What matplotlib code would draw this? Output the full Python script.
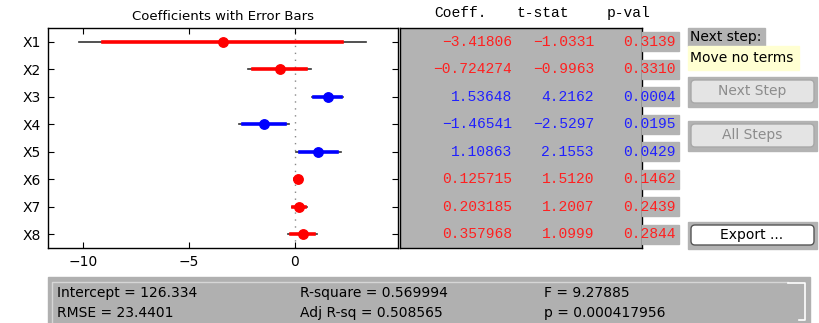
import matplotlib
matplotlib.use("Agg")
import matplotlib.pyplot as plt
from matplotlib.patches import Rectangle, FancyBboxPatch

# stepwise regression results
terms = ["X1", "X2", "X3", "X4", "X5", "X6", "X7", "X8"]
coef = [-3.41806, -0.724274, 1.53648, -1.46541, 1.10863, 0.125715, 0.203185, 0.357968]
tstat = [-1.0331, -0.9963, 4.2162, -2.5297, 2.1553, 1.5120, 1.2007, 1.0999]
pval = ["0.3139", "0.3310", "0.0004", "0.0195", "0.0429", "0.1462", "0.2439", "0.2844"]
coef_txt = ["-3.41806", "-0.724274", "1.53648", "-1.46541", "1.10863", "0.125715", "0.203185", "0.357968"]
tstat_txt = ["-1.0331", "-0.9963", "4.2162", "-2.5297", "2.1553", "1.5120", "1.2007", "1.0999"]
in_model = [False, False, True, True, True, False, False, False]

intercept = "126.334"
rmse = "23.4401"
rsq = "0.569994"
adj_rsq = "0.508565"
fstat = "9.27885"
p_model = "0.000417956"

T95, T90 = 2.04, 1.70   # critical t values for the two interval widths

W, H = 820, 323
GRAY = "#b3b3b3"


def frect(x, y, w, h):
    return [x / W, 1 - (y + h) / H, w / W, h / H]


fig = plt.figure(figsize=(W / 100, H / 100), dpi=100)
fig.patch.set_facecolor("white")

# pixel-space layer for the panel widgets
ov = fig.add_axes([0, 0, 1, 1])
ov.set_xlim(0, W)
ov.set_ylim(H, 0)
ov.axis("off")

# coefficient plot
ax = fig.add_axes(frect(48, 28, 350, 220))
ax.set_xlim(-11.65, 4.86)
ax.set_ylim(8.5, 0.5)
ax.axvline(0, color="#888888", lw=1, ls=(0, (1, 4)), zorder=1)
for i, name in enumerate(terms):
    y = i + 1
    se = coef[i] / tstat[i]
    col = "blue" if in_model[i] else "red"
    ax.plot([coef[i] - T95 * se, coef[i] + T95 * se], [y, y], color="#333333", lw=1.2, zorder=2)
    ax.plot([coef[i] - T90 * se, coef[i] + T90 * se], [y, y], color=col, lw=2.6, zorder=3)
    ax.plot(coef[i], y, "o", color=col, ms=6.8, zorder=4)
ax.set_yticks(range(1, 9))
ax.set_yticklabels(terms, fontsize=10)
ax.set_xticks([-10, -5, 0])
ax.tick_params(axis="both", direction="in", top=True, right=True, length=4, labelsize=10, pad=5)
ax.set_title("Coefficients with Error Bars", fontsize=9.5, pad=6)
for s in ax.spines.values():
    s.set_linewidth(1)

# coefficient table
tb = fig.add_axes(frect(400, 28, 242, 220))
tb.set_facecolor(GRAY)
tb.set_xlim(0, 242)
tb.set_ylim(8.5, 0.5)
tb.set_xticks([])
tb.set_yticks([])
for s in tb.spines.values():
    s.set_linewidth(1)
mono = "Liberation Mono"
fs = 10.5
for xr, hdr in [(87, "Coeff."), (169, "t-stat"), (250, "p-val")]:
    tb.text(xr, -0.05, hdr, ha="right", va="center", fontsize=fs, family=mono, clip_on=False)
for i in range(len(terms)):
    y = i + 1
    col = "#2020ff" if in_model[i] else "#ff2020"
    tb.add_patch(Rectangle((242, y - 0.35), 37, 0.7, color=GRAY, clip_on=False, zorder=3))
    tb.text(112, y, coef_txt[i].replace("-", "\u2212"), ha="right", va="center",
            fontsize=fs, family=mono, color=col)
    tb.text(194, y, tstat_txt[i].replace("-", "\u2212"), ha="right", va="center",
            fontsize=fs, family=mono, color=col)
    tb.text(276, y, pval[i], ha="right", va="center", fontsize=fs,
            family=mono, color=col, clip_on=False, zorder=4)

# next-step box
ov.add_patch(Rectangle((688, 28), 77, 18, color=GRAY))
ov.text(690, 37, "Next step:", fontsize=10, va="center")
ov.add_patch(Rectangle((688, 46), 111, 24, color="#ffffd2"))
ov.text(690, 58, "Move no terms", fontsize=10, va="center")


def button(y0, h, label, enabled):
    ov.add_patch(Rectangle((688, y0), 129, h, color=GRAY))
    face = "white" if enabled else "#e4e4e4"
    edge = "#555555" if enabled else "#a8a8a8"
    ov.add_patch(FancyBboxPatch((691, y0 + 3), 123, h - 7,
                                boxstyle="round,pad=0,rounding_size=4",
                                fc=face, ec=edge, lw=1))
    ov.text(752, y0 + h / 2 - 1, label, ha="center", va="center", fontsize=10,
            color="black" if enabled else "#8c8c8c")


button(77, 30, "Next Step", False)
button(121, 30, "All Steps", False)
button(222, 27, "Export ...", True)

# summary panel
ov.add_patch(Rectangle((48, 277), 762, 50, color="#b0b0b0"))
ov.plot([52, 52, 788], [325, 282, 282], color="#d6d6d6", lw=1)
ov.plot([788, 805, 805, 799], [283, 283, 320, 320], color="white", lw=1.2)
summary = [
    (57, 293, "Intercept = " + intercept),
    (57, 313, "RMSE = " + rmse),
    (300, 293, "R-square = " + rsq),
    (300, 313, "Adj R-sq = " + adj_rsq),
    (544, 293, "F = " + fstat),
    (544, 313, "p = " + p_model),
]
for x, y, s in summary:
    ov.text(x, y, s, fontsize=10, va="center")

fig.savefig("out.png", dpi=100)
